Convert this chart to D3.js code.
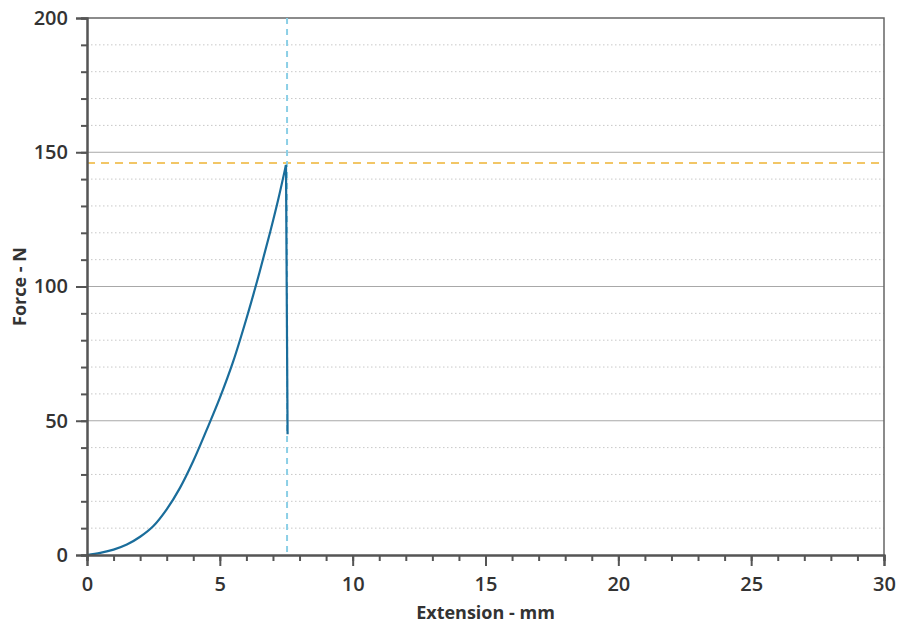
<!DOCTYPE html>
<html><head><meta charset="utf-8">
<script src="https://cdn.jsdelivr.net/npm/d3@7"></script>
<style>body{margin:0;background:#fff}svg{display:block}text{font-family:"Open Sans",sans-serif}</style>
</head><body>
<svg id="c" width="901" height="625"></svg>
<script>
const extension = [0, 0.5, 1.0, 1.5, 2.0, 2.5, 3.0, 3.5, 4.0, 4.5, 5.0, 5.5, 6.0, 6.5, 6.9, 7.2, 7.49, 7.55];
const force     = [0, 0.8, 2.0, 3.9, 6.8, 10.8, 17.0, 25.0, 35.0, 46.5, 58.5, 72, 88, 105.5, 120.5, 132.5, 145.3, 45];
const peakForce = 146;
const peakExt = 7.53;
const xTicks = [0, 5, 10, 15, 20, 25, 30];
const yTicks = [0, 50, 100, 150, 200];

const svg = d3.select("#c");
const L = 87, R = 884, T = 18, B = 555;
const x = d3.scaleLinear().domain([0, 30]).range([L, R]);
const y = d3.scaleLinear().domain([0, 200]).range([B, T]);

const g = svg.append("g");
g.selectAll("line.minor").data(d3.range(10, 200, 10).filter(v => v % 50 !== 0)).join("line")
  .attr("x1", L).attr("x2", R).attr("y1", d => y(d)).attr("y2", d => y(d))
  .attr("stroke", "#c8c8c8").attr("stroke-width", 1).attr("stroke-dasharray", "1.5,2.5");
g.selectAll("line.major").data([50, 100, 150]).join("line")
  .attr("x1", L).attr("x2", R).attr("y1", d => y(d)).attr("y2", d => y(d))
  .attr("stroke", "#a8a8a8").attr("stroke-width", 1);

svg.append("path").attr("d", `M${L},${T}H${R}V${B}`).attr("fill", "none").attr("stroke", "#666").attr("stroke-width", 1.5);

svg.append("line").attr("x1", L).attr("x2", R).attr("y1", y(peakForce)).attr("y2", y(peakForce))
  .attr("stroke", "#f2c666").attr("stroke-width", 2).attr("stroke-dasharray", "8,6");
svg.append("line").attr("x1", x(peakExt)).attr("x2", x(peakExt)).attr("y1", T).attr("y2", B)
  .attr("stroke", "#8ccfe6").attr("stroke-width", 2).attr("stroke-dasharray", "6,5");

const pts = extension.map((e, i) => [e, force[i]]);
const rise = pts.slice(0, pts.length - 1);
const drop = pts.slice(pts.length - 2);
svg.append("path").datum(rise)
  .attr("d", d3.line().x(d => x(d[0])).y(d => y(d[1])).curve(d3.curveCatmullRom))
  .attr("fill", "none").attr("stroke", "#1a6d9b").attr("stroke-width", 2.2).attr("stroke-linejoin", "round");
svg.append("path").datum(drop)
  .attr("d", d3.line().x(d => x(d[0])).y(d => y(d[1])))
  .attr("fill", "none").attr("stroke", "#1a6d9b").attr("stroke-width", 2.2);

const xMinor = d3.axisBottom(x).tickValues(d3.range(0, 31, 1)).tickSize(6).tickFormat("");
const xMajor = d3.axisBottom(x).tickValues(xTicks).tickSize(11).tickPadding(11).tickFormat(d3.format("d"));
const yMinor = d3.axisLeft(y).tickValues(d3.range(0, 201, 10)).tickSize(6).tickFormat("");
const yMajor = d3.axisLeft(y).tickValues(yTicks).tickSize(11).tickPadding(8).tickFormat(d3.format("d"));

function style(sel) {
  sel.select(".domain").attr("stroke", "#555").attr("stroke-width", 2);
  sel.selectAll(".tick line").attr("stroke", "#555").attr("stroke-width", 2);
  sel.selectAll(".tick text").attr("fill", "#333").attr("font-size", 20).attr("font-weight", 600);
}
svg.append("g").attr("transform", `translate(0,${B})`).call(xMinor).call(style);
svg.append("g").attr("transform", `translate(0,${B})`).call(xMajor).call(style);
svg.append("g").attr("transform", `translate(${L},0)`).call(yMinor).call(style);
svg.append("g").attr("transform", `translate(${L},0)`).call(yMajor).call(style);

svg.append("text").attr("x", (L + R) / 2).attr("y", 619).attr("text-anchor", "middle")
  .attr("fill", "#333").attr("font-size", 18).attr("font-weight", 700).text("Extension - mm");
svg.append("text").attr("transform", `translate(26,${(T + B) / 2}) rotate(-90)`).attr("text-anchor", "middle")
  .attr("fill", "#333").attr("font-size", 18).attr("font-weight", 700).text("Force - N");
</script>
</body></html>
